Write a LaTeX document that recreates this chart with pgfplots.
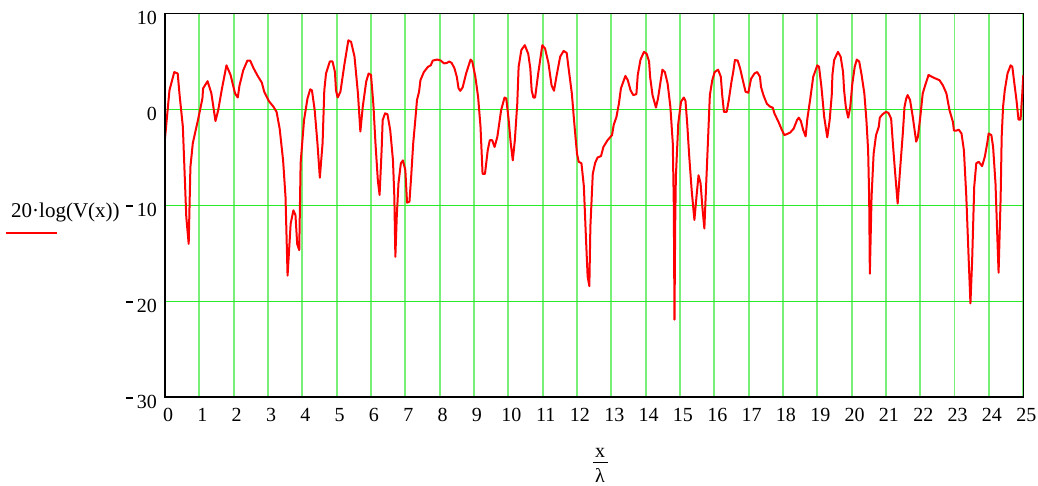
\documentclass[border=0pt]{standalone}
\usepackage{pgfplots}
\pgfplotsset{compat=1.18}
\usepackage{fontspec}
\setmainfont{Liberation Serif}
\definecolor{hgrid}{RGB}{40,235,40}
\definecolor{vgrid}{RGB}{120,240,120}
\definecolor{curvered}{RGB}{255,0,0}
\newcommand{\mcminus}{\rule[9.5pt]{7pt}{1.9pt}\hspace{4pt}}
\pgfplotstableread{
x y
0.00 -3.0
0.13 2.0
0.27 3.9
0.37 3.75
0.42 1.7
0.52 -1.8
0.62 -11.2
0.69 -14.0
0.74 -6.0
0.81 -3.5
0.96 -1.1
1.09 1.15
1.11 2.2
1.24 2.95
1.35 1.7
1.47 -1.2
1.55 -0.07
1.65 2.0
1.79 4.6
1.91 3.6
2.04 1.67
2.12 1.25
2.17 2.5
2.28 4.1
2.40 5.1
2.48 5.1
2.58 4.3
2.70 3.5
2.82 2.8
2.89 1.85
3.02 0.9
3.16 0.28
3.25 -0.25
3.34 -2.0
3.44 -5.3
3.51 -9.1
3.57 -17.3
3.66 -11.9
3.74 -10.5
3.80 -11.0
3.85 -14.0
3.91 -14.65
3.95 -5.6
4.05 -1.1
4.15 1.15
4.23 2.1
4.28 2.0
4.36 -0.07
4.44 -3.5
4.51 -7.1
4.59 -3.5
4.64 2.0
4.69 3.75
4.80 5.0
4.88 5.0
4.95 3.9
4.98 2.0
5.03 1.25
5.11 1.85
5.23 4.8
5.34 7.2
5.42 7.05
5.52 5.5
5.62 1.67
5.69 -2.3
5.76 0.28
5.86 2.9
5.93 3.75
6.00 3.6
6.07 0.5
6.13 -3.5
6.20 -7.4
6.25 -8.9
6.31 -4.2
6.34 -1.1
6.41 -0.4
6.48 -0.5
6.56 -2.15
6.64 -5.3
6.68 -9.1
6.71 -15.35
6.75 -11.2
6.80 -7.7
6.87 -5.6
6.93 -5.3
7.00 -6.3
7.05 -9.7
7.12 -9.6
7.17 -7.0
7.23 -3.5
7.29 -1.1
7.34 1.0
7.40 1.85
7.44 3.05
7.54 3.9
7.66 4.45
7.74 4.6
7.80 5.1
7.93 5.2
8.03 5.1
8.13 4.8
8.21 4.85
8.28 5.0
8.35 4.85
8.43 4.3
8.50 3.4
8.55 2.2
8.60 1.95
8.67 2.3
8.77 3.75
8.90 5.2
8.95 5.0
9.04 3.4
9.12 1.3
9.19 -1.8
9.25 -6.7
9.32 -6.7
9.40 -4.25
9.46 -3.2
9.53 -3.2
9.60 -3.9
9.68 -2.85
9.79 -0.07
9.89 1.25
9.94 1.15
10.01 -1.1
10.07 -3.5
10.13 -5.3
10.19 -3.2
10.26 0.6
10.30 4.45
10.38 6.2
10.48 6.7
10.58 5.8
10.64 4.3
10.68 2.0
10.73 1.25
10.78 1.25
10.87 3.75
10.99 6.7
11.07 6.35
11.17 4.8
11.26 2.5
11.33 1.95
11.41 3.6
11.51 5.5
11.61 6.1
11.70 5.9
11.75 4.45
11.85 1.67
11.93 -1.8
12.00 -4.6
12.05 -5.45
12.13 -5.6
12.20 -8.0
12.26 -13.3
12.31 -17.4
12.36 -18.4
12.39 -12.2
12.46 -6.7
12.53 -5.55
12.60 -5.0
12.70 -4.85
12.77 -3.9
12.89 -3.2
13.02 -2.67
13.07 -1.6
13.15 -0.76
13.22 0.6
13.28 2.2
13.41 3.5
13.48 3.05
13.56 2.0
13.64 1.5
13.73 1.6
13.77 3.6
13.85 5.2
13.95 6.0
14.03 5.8
14.10 5.0
14.13 3.4
14.20 1.5
14.30 0.2
14.36 1.15
14.44 3.05
14.49 4.15
14.56 3.9
14.64 2.7
14.72 0.28
14.79 -3.5
14.82 -10.0
14.84 -21.9
14.86 -12.0
14.88 -7.0
14.95 -1.45
15.03 0.8
15.11 1.25
15.16 0.9
15.21 -1.45
15.27 -4.9
15.34 -8.4
15.42 -11.5
15.48 -9.1
15.54 -6.85
15.60 -7.7
15.66 -10.5
15.71 -12.4
15.76 -8.05
15.82 -2.85
15.87 1.5
15.94 3.05
16.01 3.9
16.11 4.15
16.19 3.4
16.23 1.5
16.28 -0.25
16.36 -0.25
16.42 0.95
16.50 2.9
16.55 3.9
16.60 5.15
16.68 5.1
16.75 4.3
16.84 2.9
16.91 1.85
16.99 1.75
17.07 3.2
17.17 3.75
17.25 3.9
17.33 3.4
17.36 2.35
17.43 1.5
17.53 0.6
17.63 0.28
17.70 0.2
17.75 -0.4
17.87 -1.3
17.97 -2.15
18.04 -2.67
18.12 -2.55
18.21 -2.4
18.31 -2.0
18.41 -1.1
18.46 -0.85
18.52 -1.2
18.59 -2.15
18.66 -2.8
18.71 -0.95
18.79 1.0
18.88 3.4
19.00 4.6
19.05 4.45
19.12 2.35
19.20 -0.76
19.29 -2.9
19.36 -1.1
19.42 1.5
19.44 3.6
19.49 5.15
19.60 6.0
19.68 5.5
19.75 3.9
19.78 2.0
19.83 0.28
19.90 -0.85
19.96 0.28
20.02 2.7
20.09 4.45
20.15 5.2
20.22 5.0
20.29 3.6
20.37 1.67
20.43 -1.1
20.48 -4.25
20.51 -9.1
20.53 -17.1
20.58 -9.1
20.64 -4.6
20.71 -2.67
20.79 -1.8
20.82 -0.85
20.90 -0.5
21.00 -0.25
21.07 -0.35
21.15 -0.95
21.20 -3.5
21.26 -6.3
21.34 -9.8
21.41 -6.3
21.49 -2.5
21.54 0.28
21.59 1.15
21.63 1.5
21.70 1.0
21.78 -0.76
21.88 -3.35
21.93 -2.85
22.00 -0.76
22.07 1.67
22.14 2.5
22.24 3.6
22.34 3.4
22.46 3.2
22.56 3.05
22.66 2.5
22.76 1.67
22.85 -0.07
22.95 -1.3
22.98 -2.2
23.05 -2.2
23.12 -2.1
23.20 -2.5
23.27 -4.25
23.34 -9.1
23.41 -15.7
23.46 -20.2
23.51 -15.7
23.57 -8.05
23.63 -5.6
23.70 -5.45
23.80 -5.9
23.88 -4.9
23.95 -3.5
23.99 -2.5
24.07 -2.67
24.12 -3.9
24.19 -7.7
24.25 -14.0
24.28 -17.0
24.34 -9.1
24.37 -2.85
24.41 0.28
24.46 2.0
24.54 3.75
24.63 4.6
24.68 4.45
24.74 2.7
24.80 1.0
24.86 -1.05
24.92 -1.05
24.97 1.67
25.00 3.6
}\curve
\begin{document}
\begin{tikzpicture}[font=\fontsize{20}{24}\selectfont]
\useasboundingbox (0pt,0pt) rectangle (1038pt,485pt);
\begin{axis}[
  at={(165pt,87.5pt)}, anchor=south west,
  scale only axis, width=858.3pt, height=384pt,
  xmin=0, xmax=25, ymin=-30, ymax=10,
  xtick={0,1,2,3,4,5,6,7,8,9,10,11,12,13,14,15,16,17,18,19,20,21,22,23,24,25},
  xticklabels={0,1,2,3,4,5,6,7,8,9,10,11,12,13,14,15,16,17,18,19,20,21,22,23,24,25},
  ytick={-30,-20,-10,0,10},
  yticklabels={{\mcminus30},{\mcminus20},{\mcminus10},0,10},
  major tick length=0pt,
  xmajorgrids=true, ymajorgrids=false,
  x grid style={draw=vgrid, line width=1.7pt},
  axis line style={draw=black, line width=1.3pt},
  xticklabel style={anchor=north, inner sep=0pt, yshift=-10.5pt, xshift=3pt},
  yticklabel style={anchor=east, inner sep=0pt, xshift=-8pt, yshift=-4pt},
]
\draw[hgrid, line width=1.2pt] (axis cs:0,0) -- (axis cs:25,0);
\draw[hgrid, line width=1.2pt] (axis cs:0,-10) -- (axis cs:25,-10);
\draw[hgrid, line width=1.2pt] (axis cs:0,-20) -- (axis cs:25,-20);
\addplot[curvered, line width=2pt, line join=round] table[x=x,y=y] {\curve};
\draw[black, line width=2.2pt] (rel axis cs:0,1) -- (rel axis cs:0,0) -- (rel axis cs:1,0);
\end{axis}
\node[anchor=base west, inner sep=0pt, font=\fontsize{21}{24}\selectfont] at (11pt,267pt) {20·log(V(x))};
\draw[curvered, line width=1.8pt] (6pt,252.3pt) -- (57pt,252.3pt);
\node[anchor=base, inner sep=0pt] at (600pt,28pt) {x};
\draw[black, line width=1.3pt] (593pt,22.3pt) -- (608pt,22.3pt);
\node[anchor=base, inner sep=0pt] at (600pt,3pt) {λ};
\end{tikzpicture}
\end{document}
